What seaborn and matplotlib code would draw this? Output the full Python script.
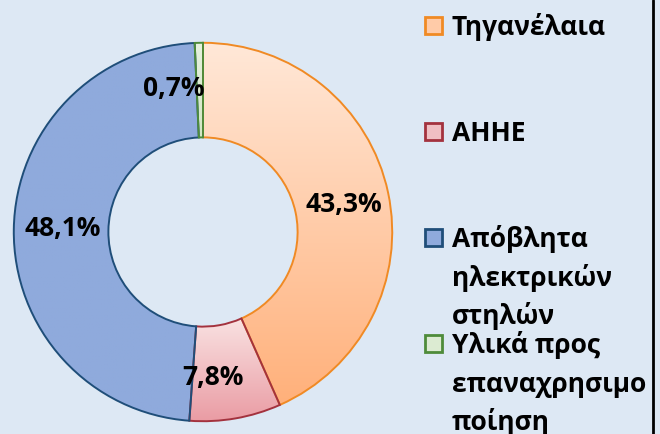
import numpy as np
import matplotlib
matplotlib.use("Agg")
import matplotlib.pyplot as plt
import seaborn as sns
from matplotlib.patches import Rectangle
from matplotlib.lines import Line2D
from matplotlib.colors import LinearSegmentedColormap

sns.set_theme(style="white")
plt.rcParams['font.family'] = ['Open Sans', 'DejaVu Sans']

categories = ["Τηγανέλαια", "ΑΗΗΕ", "Απόβλητα\nηλεκτρικών\nστηλών", "Υλικά προς\nεπαναχρησιμο\nποίηση"]
values = [43.3, 7.8, 48.1, 0.7]

top_colors = ["#FFE8D8", "#F9E2E2", "#8FAADC", "#E6F1DE"]
bottom_colors = ["#FFB07A", "#EA9CA4", "#8FAADC", "#D2E6C4"]
edge_colors = ["#F08A24", "#A3323E", "#1F4E79", "#4E8B3A"]
legend_face = ["#FFCBA8", "#F0BFC3", "#8FAADC", "#DCEBD2"]

BG = "#DDE8F4"
W, H = 660, 434
fig = plt.figure(figsize=(W / 100, H / 100), dpi=100, facecolor=BG)

cx, cy, half = 203, 232, 193
ax = fig.add_axes([(cx - half) / W, (H - cy - half) / H, 2 * half / W, 2 * half / H])
ax.set_facecolor(BG)
ax.set_aspect('equal')
ax.axis('off')

fmt = lambda p: f"{p:.1f}%".replace('.', ',')
wedges, _, autotexts = ax.pie(values, startangle=90, counterclock=False, radius=1.0,
                              autopct=fmt, pctdistance=0.75,
                              wedgeprops=dict(width=0.5, linewidth=1.4),
                              textprops=dict(fontsize=19, fontweight='bold', color='black'))

for i, w in enumerate(wedges):
    w.set_edgecolor(edge_colors[i])
    w.set_facecolor('none')
    w.set_zorder(3)
    ext = w.get_path().get_extents()
    cmap = LinearSegmentedColormap.from_list(f"g{i}", [top_colors[i], bottom_colors[i]])
    grad = np.linspace(0, 1, 256).reshape(-1, 1)
    im = ax.imshow(grad, cmap=cmap, aspect='auto', origin='upper',
                   extent=[ext.x0, ext.x1, ext.y0, ext.y1], zorder=2, interpolation='bilinear')
    im.set_clip_path(w)

ax.set_xlim(-1.02, 1.02)
ax.set_ylim(-1.02, 1.02)

# label placement tweaks
label_r = [0.76, 0.77, 0.74, 0.76]
label_dtheta = [-0.8, -6, -0.7, 0]
for i, (w, t) in enumerate(zip(wedges, autotexts)):
    ang = np.deg2rad((w.theta1 + w.theta2) / 2 + label_dtheta[i])
    t.set_position((label_r[i] * np.cos(ang), label_r[i] * np.sin(ang)))
    t.set_zorder(5)
autotexts[3].set_ha('right')
autotexts[3].set_position((0.01, 0.76))

# legend
leg_base = [35, 141, 247, 353]
line_step = 38.5
for i, lab in enumerate(categories):
    b = leg_base[i]
    fig.patches.append(Rectangle((425 / W, (H - b + 1) / H), 17 / W, 17 / H,
                                 transform=fig.transFigure, facecolor=legend_face[i],
                                 edgecolor=edge_colors[i], linewidth=2))
    for k, line in enumerate(lab.split("\n")):
        fig.text(452 / W, (H - b - k * line_step) / H, line, ha='left', va='baseline',
                 fontsize=19, fontweight='bold', color='black')

fig.lines.append(Line2D([653 / W, 653 / W], [0, 1], transform=fig.transFigure,
                        color='black', linewidth=2))

fig.savefig("out.png", dpi=100, facecolor=BG)
